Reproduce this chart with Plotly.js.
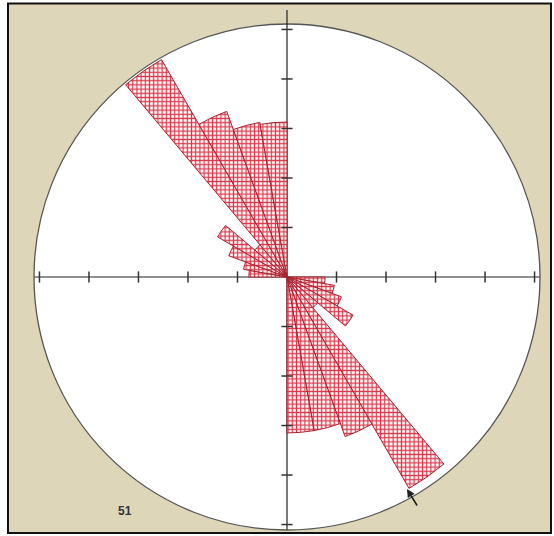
<!DOCTYPE html>
<html>
<head>
<meta charset="utf-8">
<script src="https://cdn.plot.ly/plotly-3.0.1.min.js"></script>
<style>
  html, body { margin: 0; padding: 0; background: #ffffff; }
  #rose { width: 554px; height: 536px; }
</style>
</head>
<body>
<div id="rose"></div>
<script>
// Azimuth bin centres (10 degree bins, clockwise from north)
const directions = [
  5, 15, 25, 35, 45, 55, 65, 75, 85,
  95, 105, 115, 125, 135, 145, 155, 165, 175,
  185, 195, 205, 215, 225, 235, 245, 255, 265,
  275, 285, 295, 305, 315, 325, 335, 345, 355
];
// Frequency per bin (radial units)
const counts = [
  0, 0, 0, 0, 0, 0, 0, 0, 0,
  0.77, 0.97, 1.17, 1.54, 0.81, 4.93, 3.43, 3.15, 3.15,
  0, 0, 0, 0, 0, 0, 0, 0, 0,
  0.77, 0.89, 1.25, 1.62, 0.85, 5.07, 3.56, 3.17, 3.13
];
// Scale tick positions along the four arms
const tickRadii = [1, 2, 3, 4, 5];
const radialMax = 5.11;
const sampleCount = '51';

const W = 554, H = 536;
const px = x => x / W;
const py = y => 1 - y / H;

const rose = {
  type: 'barpolar',
  r: counts,
  theta: directions,
  width: directions.map(() => 10),
  marker: {
    color: '#ffffff',
    line: { color: '#a8202e', width: 1 },
    pattern: { shape: '+', size: 4.2, solidity: 0.5, fgcolor: '#dc3a4c', bgcolor: '#ffffff', fillmode: 'replace' }
  },
  hoverinfo: 'skip',
  showlegend: false
};

function tickTrace(theta, symbol) {
  return {
    type: 'scatterpolar',
    mode: 'markers',
    r: tickRadii,
    theta: tickRadii.map(() => theta),
    marker: { symbol: symbol, size: 8, color: '#333', line: { color: '#333', width: 1.5 } },
    hoverinfo: 'skip',
    showlegend: false,
    cliponaxis: false
  };
}

const data = [
  rose,
  tickTrace(0, 'line-ew'),
  tickTrace(180, 'line-ew'),
  tickTrace(90, 'line-ns'),
  tickTrace(270, 'line-ns')
];

const layout = {
  width: W,
  height: H,
  margin: { l: 0, r: 0, t: 0, b: 0 },
  paper_bgcolor: '#ffffff',
  showlegend: false,
  polar: {
    domain: { x: [px(34), px(540)], y: [py(530), py(24)] },
    bgcolor: '#ffffff',
    bargap: 0,
    angularaxis: {
      rotation: 90,
      direction: 'clockwise',
      dtick: 90,
      showticklabels: false,
      ticks: '',
      showgrid: true,
      gridcolor: '#222222',
      gridwidth: 1.2,
      showline: true,
      linecolor: '#555555',
      linewidth: 1.3,
      layer: 'above traces'
    },
    radialaxis: {
      range: [0, radialMax],
      showgrid: false,
      showticklabels: false,
      ticks: '',
      showline: false
    }
  },
  shapes: [
    // framed beige panel
    {
      type: 'rect', xref: 'paper', yref: 'paper', layer: 'below',
      x0: px(8), x1: px(551), y0: py(533), y1: py(3.5),
      fillcolor: '#ddd6b9', line: { color: '#111111', width: 2 }
    },
    // north arm continues past the circle
    {
      type: 'line', xref: 'paper', yref: 'paper', layer: 'above',
      x0: px(287), x1: px(287), y0: py(10), y1: py(25),
      line: { color: '#222222', width: 1.2 }
    }
  ],
  annotations: [
    {
      xref: 'paper', yref: 'paper', x: px(116), y: py(511),
      xanchor: 'left', yanchor: 'middle', showarrow: false,
      text: '<b>' + sampleCount + '</b>',
      font: { family: 'Liberation Sans, Arial, sans-serif', size: 12, color: '#333333' }
    },
    {
      xref: 'paper', yref: 'paper', x: px(407), y: py(489),
      text: '', showarrow: true, arrowhead: 2, arrowsize: 1, arrowwidth: 1.6,
      arrowcolor: '#222222', ax: 11, ay: 18
    }
  ]
};

Plotly.newPlot('rose', data, layout, { staticPlot: true, displayModeBar: false });
</script>
</body>
</html>
